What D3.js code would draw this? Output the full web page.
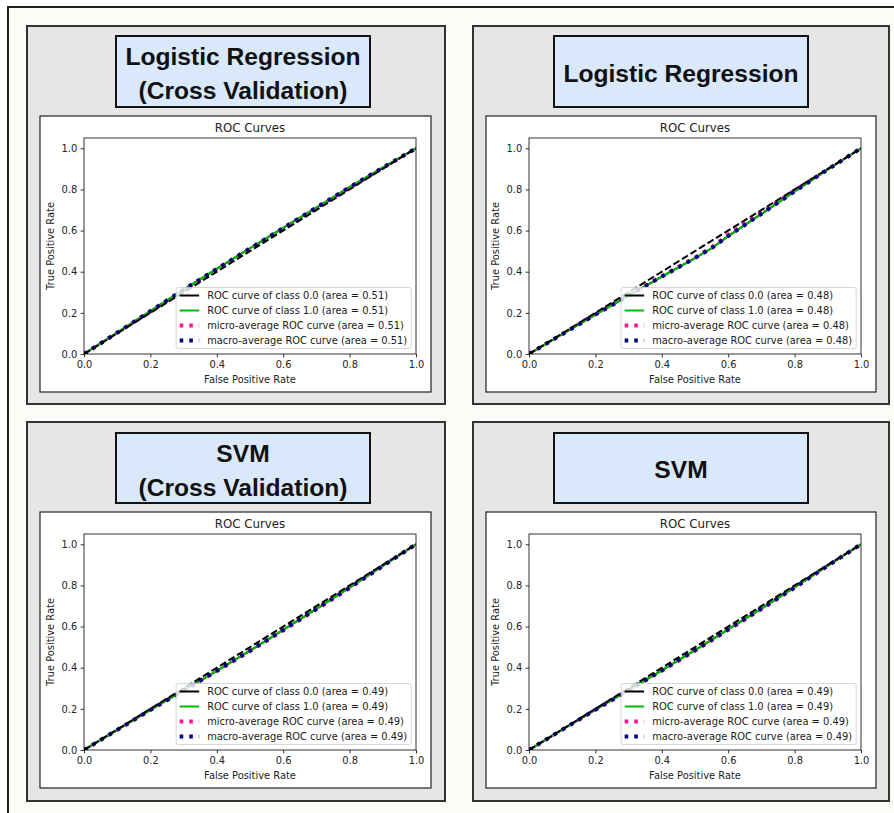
<!DOCTYPE html>
<html>
<head>
<meta charset="utf-8">
<script src="https://cdn.jsdelivr.net/npm/d3@7"></script>
<style>
  body { margin: 0; background: #fff; }
  svg { display: block; }
</style>
</head>
<body>
<div id="chart"></div>
<script>
// données
const panelTitles = [
    ["Logistic Regression", "(Cross Validation)"],
    ["Logistic Regression"],
    ["SVM", "(Cross Validation)"],
    ["SVM"]
];
const aucValues = ["0.51", "0.48", "0.49", "0.49"];
const classLabels = ["0.0", "1.0"];

const fpr = [0, 0.1, 0.2, 0.3, 0.4, 0.5, 0.55, 0.6, 0.7, 0.8, 0.9, 1.0];

const tprLrCv    = [0, 0.104, 0.209, 0.313, 0.414, 0.514, 0.563, 0.613, 0.712, 0.811, 0.906, 1.0];
const microLrCv  = [0, 0.103, 0.207, 0.311, 0.412, 0.511, 0.560, 0.610, 0.710, 0.809, 0.905, 1.0];
const tprLr      = [0, 0.096, 0.191, 0.284, 0.376, 0.466, 0.514, 0.573, 0.681, 0.790, 0.897, 1.0];
const microLr    = [0, 0.097, 0.193, 0.286, 0.378, 0.469, 0.519, 0.581, 0.689, 0.795, 0.898, 1.0];
const tprSvmCv   = [0, 0.098, 0.195, 0.290, 0.385, 0.483, 0.533, 0.584, 0.686, 0.789, 0.895, 1.0];
const microSvmCv = [0, 0.097, 0.194, 0.288, 0.383, 0.480, 0.530, 0.581, 0.683, 0.787, 0.894, 1.0];
const tprSvm     = [0, 0.099, 0.196, 0.291, 0.387, 0.485, 0.535, 0.586, 0.687, 0.790, 0.896, 1.0];
const microSvm   = [0, 0.098, 0.195, 0.289, 0.385, 0.482, 0.532, 0.583, 0.685, 0.788, 0.895, 1.0];

const tprByPanel = [tprLrCv, tprLr, tprSvmCv, tprSvm];
const microByPanel = [microLrCv, microLr, microSvmCv, microSvm];

const xTicks = [0, 0.2, 0.4, 0.6, 0.8, 1.0];
const yTicks = [0, 0.2, 0.4, 0.6, 0.8, 1.0];

// mise en page (position des 4 panneaux)
const layout = [
    { gx: 27,  gy: 26,  gw: 418, gh: 378, tx: 116, ty: 36,  tw: 254, th: 71, fx: 40,  fy: 116, fw: 391, fh: 276, ax: 84,  ay: 138 },
    { gx: 473, gy: 26,  gw: 416, gh: 378, tx: 554, ty: 36,  tw: 254, th: 71, fx: 486, fy: 116, fw: 390, fh: 276, ax: 529, ay: 138 },
    { gx: 27,  gy: 422, gw: 418, gh: 379, tx: 116, ty: 433, tw: 254, th: 70, fx: 40,  fy: 512, fw: 391, fh: 276, ax: 84,  ay: 534 },
    { gx: 473, gy: 422, gw: 416, gh: 379, tx: 554, ty: 433, tw: 254, th: 70, fx: 486, fy: 512, fw: 390, fh: 276, ax: 529, ay: 534 }
];
const AW = 332, AH = 216;
const FONT = "'DejaVu Sans', sans-serif";
const FS = 9.9;

const width = 894, height = 813;
const svg = d3.select("#chart").append("svg")
    .attr("width", width)
    .attr("height", height);

// cadre extérieur
svg.append("rect")
    .attr("x", 8).attr("y", 7)
    .attr("width", width).attr("height", height)
    .attr("fill", "#fcfbf7")
    .attr("stroke", "#222")
    .attr("stroke-width", 2);

layout.forEach((p, i) => {
    const g = svg.append("g").attr("class", "panel");

    // fond gris
    g.append("rect")
        .attr("x", p.gx).attr("y", p.gy)
        .attr("width", p.gw).attr("height", p.gh)
        .attr("fill", "#e6e6e6")
        .attr("stroke", "#333")
        .attr("stroke-width", 2);

    // boîte de titre
    g.append("rect")
        .attr("x", p.tx).attr("y", p.ty)
        .attr("width", p.tw).attr("height", p.th)
        .attr("fill", "#dae8fc")
        .attr("stroke", "#111")
        .attr("stroke-width", 2);

    const lines = panelTitles[i];
    const baselines = lines.length === 2 ? [p.ty + 28.5, p.ty + 63] : [p.ty + p.th / 2 + 10];
    lines.forEach((t, k) => {
        g.append("text")
            .attr("x", p.tx + p.tw / 2)
            .attr("y", baselines[k])
            .attr("text-anchor", "middle")
            .attr("font-family", "'Liberation Sans', Arial, sans-serif")
            .attr("font-weight", "bold")
            .attr("font-size", 24.6)
            .attr("fill", "#111")
            .text(t);
    });

    // figure matplotlib
    g.append("rect")
        .attr("x", p.fx).attr("y", p.fy)
        .attr("width", p.fw).attr("height", p.fh)
        .attr("fill", "#fff")
        .attr("stroke", "#222")
        .attr("stroke-width", 1.2);

    const x = d3.scaleLinear().domain([0, 1]).range([p.ax, p.ax + AW]);
    const y = d3.scaleLinear().domain([0, 1.05]).range([p.ay + AH, p.ay]);

    const clipId = "clip" + i;
    g.append("clipPath").attr("id", clipId)
        .append("rect")
        .attr("x", p.ax).attr("y", p.ay)
        .attr("width", AW).attr("height", AH);

    const curves = g.append("g").attr("clip-path", `url(#${clipId})`);
    const line = d3.line().x(d => x(d[0])).y(d => y(d[1]));
    const tpr = tprByPanel[i];
    const micro = microByPanel[i];

    const series = [
        { pts: fpr.map((f, k) => [f, tpr[k]]), color: "#000000", w: 2, dash: null },
        { pts: fpr.map((f, k) => [f, tpr[k]]), color: "#00bb00", w: 2, dash: null },
        { pts: fpr.map((f, k) => [f, micro[k]]), color: "#ff1493", w: 3.8, dash: "3.6,6" },
        { pts: fpr.map((f, k) => [f, tpr[k]]), color: "#000080", w: 3.8, dash: "3.6,6" },
        { pts: [[0, 0], [1, 1]], color: "#000000", w: 2, dash: "7,3" }
    ];

    curves.selectAll("path")
        .data(series)
        .join("path")
        .attr("d", d => line(d.pts))
        .attr("fill", "none")
        .attr("stroke", d => d.color)
        .attr("stroke-width", d => d.w)
        .attr("stroke-dasharray", d => d.dash);

    // axes
    const xAxis = g.append("g")
        .attr("transform", `translate(0,${p.ay + AH})`)
        .call(d3.axisBottom(x).tickValues(xTicks).tickFormat(d3.format(".1f")).tickSizeOuter(0).tickSize(3.4).tickPadding(3.4));
    const yAxis = g.append("g")
        .attr("transform", `translate(${p.ax},0)`)
        .call(d3.axisLeft(y).tickValues(yTicks).tickFormat(d3.format(".1f")).tickSizeOuter(0).tickSize(3.4).tickPadding(3.4));
    [xAxis, yAxis].forEach(a => {
        a.select(".domain").remove();
        a.selectAll("line").attr("stroke", "#000").attr("stroke-width", 0.8);
        a.selectAll("text").attr("font-family", FONT).attr("font-size", FS).attr("fill", "#222");
    });

    // cadre des axes
    g.append("rect")
        .attr("x", p.ax).attr("y", p.ay)
        .attr("width", AW).attr("height", AH)
        .attr("fill", "none")
        .attr("stroke", "#000")
        .attr("stroke-width", 0.8);

    g.append("text")
        .attr("x", p.ax + AW / 2).attr("y", p.ay - 6)
        .attr("text-anchor", "middle")
        .attr("font-family", FONT).attr("font-size", 11.8).attr("fill", "#222")
        .text("ROC Curves");

    g.append("text")
        .attr("x", p.ax + AW / 2).attr("y", p.ay + AH + 29)
        .attr("text-anchor", "middle")
        .attr("font-family", FONT).attr("font-size", FS).attr("fill", "#222")
        .text("False Positive Rate");

    g.append("text")
        .attr("transform", `translate(${p.ax - 30},${p.ay + AH / 2}) rotate(-90)`)
        .attr("text-anchor", "middle")
        .attr("font-family", FONT).attr("font-size", FS).attr("fill", "#222")
        .text("True Positive Rate");

    // légende
    const labels = [
        `ROC curve of class ${classLabels[0]} (area = ${aucValues[i]})`,
        `ROC curve of class ${classLabels[1]} (area = ${aucValues[i]})`,
        `micro-average ROC curve (area = ${aucValues[i]})`,
        `macro-average ROC curve (area = ${aucValues[i]})`
    ];
    const leg = g.append("g");
    const box = leg.append("rect");
    const texts = leg.selectAll("text")
        .data(labels)
        .join("text")
        .attr("font-family", FONT).attr("font-size", FS).attr("fill", "#1a1a1a")
        .text(d => d);
    let maxW = 0;
    texts.each(function () { maxW = Math.max(maxW, this.getComputedTextLength()); });

    const legW = 31 + maxW + 4, legH = 61;
    const lx = p.ax + AW - 4.8 - legW;
    const ly = p.ay + AH - 5.5 - legH;
    box.attr("x", lx).attr("y", ly)
        .attr("width", legW).attr("height", legH)
        .attr("rx", 2)
        .attr("fill", "#fff").attr("fill-opacity", 0.8)
        .attr("stroke", "#cccccc").attr("stroke-width", 0.8);
    texts.attr("x", lx + 31).attr("y", (d, k) => ly + 8 + k * 15 + 3.6);

    leg.selectAll("line")
        .data(series.slice(0, 4))
        .join("line")
        .attr("x1", lx + 3.5).attr("x2", lx + 3.5 + 19.5)
        .attr("y1", (d, k) => ly + 8 + k * 15)
        .attr("y2", (d, k) => ly + 8 + k * 15)
        .attr("stroke", d => d.color)
        .attr("stroke-width", d => d.w)
        .attr("stroke-dasharray", d => d.dash);
});
</script>
</body>
</html>
